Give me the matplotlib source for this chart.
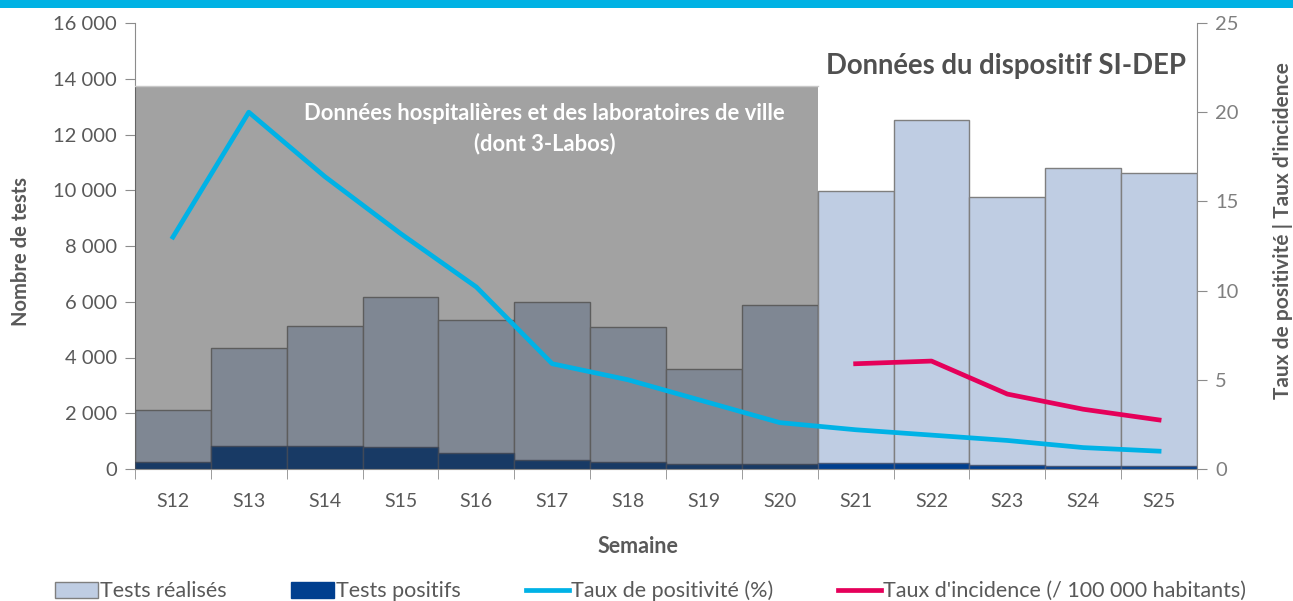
import matplotlib
matplotlib.use("Agg")
from matplotlib import pyplot as plt
from matplotlib.patches import Rectangle
from matplotlib.ticker import FuncFormatter, FixedLocator
import numpy as np

plt.rcParams['font.family'] = ['Lato', 'DejaVu Sans']

weeks = ["S12", "S13", "S14", "S15", "S16", "S17", "S18", "S19", "S20",
         "S21", "S22", "S23", "S24", "S25"]
tests_realises = [2120, 4330, 5130, 6170, 5360, 5990, 5080, 3600, 5880,
                  9980, 12510, 9770, 10790, 10620]
tests_positifs = [260, 840, 840, 790, 560, 310, 250, 170, 170,
                  200, 200, 150, 110, 100]
taux_positivite = [13.0, 20.0, 16.4, 13.2, 10.2, 5.9, 5.0, 3.8, 2.6,
                   2.2, 1.9, 1.6, 1.2, 1.0]
taux_incidence = [None] * 9 + [5.9, 6.05, 4.2, 3.35, 2.75]

# zone "données hospitalières" : semaines S12 a S20
zone_first, zone_last = "S12", "S20"
zone_top = 13740

grey = "#595959"
light_blue = "#BFCDE3"
navy = "#003F8F"
cyan = "#00B2E6"
crimson = "#E5005A"

fig = plt.figure(figsize=(12.93, 6.01), dpi=100)
ax = fig.add_axes([135 / 1293, 1 - 469 / 601, (1197 - 135) / 1293, (469 - 23) / 601])

x = np.arange(len(weeks))
ax.bar(x, tests_realises, width=1.0, color=light_blue, edgecolor="#7F7F7F",
       linewidth=1, zorder=2)
ax.bar(x, tests_positifs, width=1.0, color=navy, edgecolor="#4A5A78",
       linewidth=1, zorder=3)

i0, i1 = weeks.index(zone_first), weeks.index(zone_last)
ax.add_patch(Rectangle((i0 - 0.5, 0), i1 - i0 + 1, zone_top,
                       facecolor=(53 / 255, 53 / 255, 53 / 255), alpha=0.46,
                       edgecolor="none", zorder=4))
ax.plot([i0 - 0.5, i1 + 0.5], [zone_top, zone_top], color="#C8C8C8",
        linewidth=1, zorder=4)
ax.text((i0 + i1) / 2 + 0.9, zone_top * 0.955,
        "Données hospitalières et des laboratoires de ville\n(dont 3-Labos)",
        ha="center", va="top", color="white", fontsize=15.8,
        fontweight="bold", linespacing=1.45, zorder=5)

ax.set_xlim(-0.5, len(weeks) - 0.5)
ax.set_ylim(0, 16000)
ax.set_yticks(range(0, 16001, 2000))
ax.yaxis.set_major_formatter(FuncFormatter(lambda v, p: f"{int(v):,}".replace(",", " ")))
ax.set_xticks(x)
ax.set_xticklabels(weeks)
ax.xaxis.set_minor_locator(FixedLocator(np.arange(-0.5, len(weeks), 1.0)))
ax.tick_params(axis="x", which="major", length=0, pad=17, labelsize=14, colors=grey)
ax.tick_params(axis="x", which="minor", length=7, color="#8C8C8C", direction="out")
ax.tick_params(axis="y", length=7, color="#8C8C8C", labelsize=14.5,
               labelcolor=grey, pad=6)
for s in ["top", "right"]:
    ax.spines[s].set_visible(False)
for s in ["left", "bottom"]:
    ax.spines[s].set_color("#8C8C8C")

ax.set_ylabel("Nombre de tests", fontsize=14.5, fontweight="bold", color=grey)
ax.yaxis.set_label_coords(-0.098, 0.487)
ax.set_xlabel("Semaine", fontsize=15.5, fontweight="bold", color=grey)
ax.xaxis.set_label_coords(0.474, -0.150)

ax2 = ax.twinx()
ax2.plot(x, taux_positivite, color=cyan, linewidth=3.4, zorder=6)
inc = np.array([np.nan if v is None else v for v in taux_incidence], dtype=float)
ax2.plot(x, inc, color=crimson, linewidth=3.4, zorder=6)
ax2.set_ylim(0, 25)
ax2.set_yticks(range(0, 26, 5))
ax2.tick_params(axis="y", length=7, color="#8C8C8C", labelsize=14.5,
                labelcolor="#7F7F7F", pad=6)
for s in ["top", "left", "bottom"]:
    ax2.spines[s].set_visible(False)
ax2.spines["right"].set_color("#8C8C8C")
ax2.set_ylabel("Taux de positivité | Taux d'incidence", fontsize=15,
               fontweight="bold", color=grey)
ax2.yaxis.set_label_coords(1.072, 0.534)

ax2.text(len(weeks) - 0.65, 22.6, "Données du dispositif SI-DEP", ha="right",
         va="center", fontsize=19.8, fontweight="bold", color="#505050")

# bandeau du haut
fig.patches.append(Rectangle((0, 1 - 8 / 601), 1, 8 / 601, transform=fig.transFigure,
                             facecolor="#00B2E4", edgecolor="none"))

handles = [
    Rectangle((0, 0), 1, 1, facecolor=light_blue, edgecolor="#7F7F7F"),
    Rectangle((0, 0), 1, 1, facecolor=navy, edgecolor=navy),
    plt.Line2D([], [], color=cyan, linewidth=3.4),
    plt.Line2D([], [], color=crimson, linewidth=3.4),
]
labels = ["Tests réalisés", "Tests positifs", "Taux de positivité (%)",
          "Taux d'incidence (/ 100 000 habitants)"]
fig.legend(handles, labels, loc="center", bbox_to_anchor=(0.503, 1 - 591 / 601),
           ncol=4, frameon=False, fontsize=15.5, labelcolor=grey,
           handlelength=2.0, handleheight=0.75, handletextpad=0.1,
           columnspacing=3.0)

fig.savefig("out.png", dpi=100)
